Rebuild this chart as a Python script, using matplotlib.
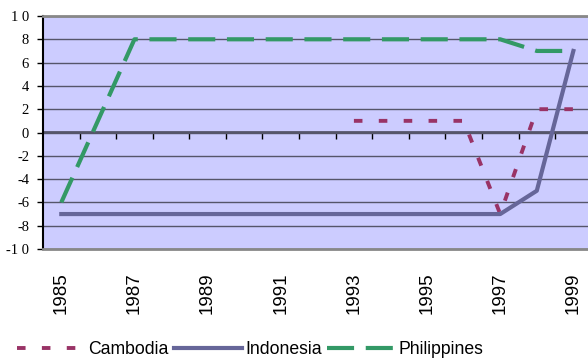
import matplotlib
matplotlib.use("Agg")
import matplotlib.pyplot as plt
import numpy as np

years = list(range(1985, 2000))
cambodia = [None] * 8 + [1, 1, 1, 1, -7, 2, 2]
indonesia = [-7] * 13 + [-5, 7]
philippines = [-6, 1, 8, 8, 8, 8, 8, 8, 8, 8, 8, 8, 8, 7, 7]
yticks = list(range(-10, 11, 2))
ytick_labels = ["-1 0", "-8", "-6", "-4", "-2", "0", "2", "4", "6", "8", "1 0"]

def as_array(vals):
    return np.array([np.nan if v is None else v for v in vals], dtype=float)

fig = plt.figure(figsize=(5.88, 3.6), dpi=100)
ax = fig.add_axes([43 / 588, 1 - 249 / 360, 1 - 43 / 588, 233 / 360])
ax.set_facecolor("#ccccff")

x = np.arange(len(years))
ax.plot(x, as_array(cambodia), color="#993366", lw=2.8, dashes=(2.2, 4.2),
        solid_capstyle="butt", dash_capstyle="butt", label="Cambodia", zorder=3)
ax.plot(x, as_array(indonesia), color="#666699", lw=3, label="Indonesia", zorder=4)
ax.plot(x, as_array(philippines), color="#339966", lw=3, dashes=(6.5, 2.8),
        dash_capstyle="butt", label="Philippines", zorder=5)

ax.set_xlim(-0.5, 14.4)
ax.set_ylim(-10, 10)
ax.set_yticks(yticks)
ax.set_yticklabels(ytick_labels, family="Liberation Serif", fontsize=10.5)
ax.yaxis.grid(True, color="#55556a", lw=1)
ax.set_axisbelow(True)
ax.tick_params(axis="y", length=4, width=1, color="black", pad=6)

ax.set_xticks(x[::2])
ax.set_xticklabels([str(y) for y in years[::2]], rotation=90,
                   family="Liberation Sans", fontsize=13.5)
ax.tick_params(axis="x", length=0, pad=17)

ax.spines["left"].set_color("black")
ax.spines["left"].set_linewidth(1.5)
ax.spines["right"].set_visible(False)
for side in ("top", "bottom"):
    ax.spines[side].set_color("#888888")
    ax.spines[side].set_linewidth(2)

# category axis crossing at zero, with ticks between categories pointing down
zero_axis = ax.secondary_xaxis(0.5)
zero_axis.set_xticks(x[:-1] + 0.5)
zero_axis.set_xticklabels([])
zero_axis.tick_params(length=5, width=1, color="black", direction="in")
for side in ("top", "bottom"):
    zero_axis.spines[side].set_color("#55556a")
    zero_axis.spines[side].set_linewidth(2)

fig.legend(loc="center", bbox_to_anchor=(0.425, 0.03), ncol=3, frameon=False,
           prop={"family": "Liberation Sans", "size": 12.7},
           handlelength=3.9, handletextpad=0.15, columnspacing=0.3)

fig.savefig("out.png", dpi=100)
